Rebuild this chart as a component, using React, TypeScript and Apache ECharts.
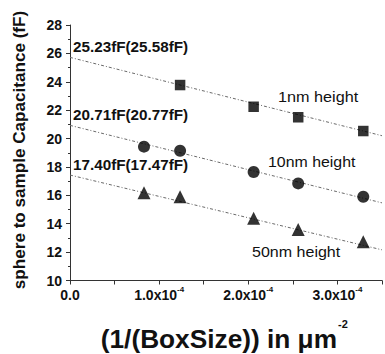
import React, { useEffect, useRef } from "react";
import * as echarts from "echarts";

const xPts4 = [1.235e-4, 2.06e-4, 2.56e-4, 3.29e-4];
const xPts5 = [0.83e-4, 1.235e-4, 2.06e-4, 2.56e-4, 3.29e-4];
const cap1nm = [23.77, 22.24, 21.5, 20.53];
const cap10nm = [19.43, 19.14, 17.64, 16.84, 15.9];
const cap50nm = [16.18, 15.9, 14.38, 13.6, 12.73];
const fitX = [0, 3.5e-4];
const fit1nm = [25.72, 20.2];
const fit10nm = [20.93, 15.47];
const fit50nm = [17.43, 12.16];
const interceptLabels = ["25.23fF(25.58fF)", "20.71fF(20.77fF)", "17.40fF(17.47fF)"];
const seriesNames = ["1nm height", "10nm height", "50nm height"];

const FF = "'Liberation Sans', Arial, sans-serif";

const pairs = (xs: number[], ys: number[]) => xs.map((x, i) => [x, ys[i]]);

export default function App() {
  const ref = useRef<HTMLDivElement>(null);
  useEffect(() => {
    if (!ref.current) return;
    const chart = echarts.init(ref.current, null, { renderer: "svg" });
    const fitStyle = { color: "#6a6a6a", width: 1, type: [3, 2, 1, 2] as any };
    const ink = "#111";
    const lbl = (text: string, x: number, y: number, font: string, sx: number) => ({
      type: "text",
      x,
      y,
      scaleX: sx,
      style: { text, fill: ink, font, textAlign: "left", textVerticalAlign: "middle" },
    });
    chart.setOption({
      animation: false,
      backgroundColor: "#fff",
      grid: { left: 70, top: 25, right: 0, bottom: 73.5, containLabel: false },
      xAxis: {
        type: "value",
        min: 0,
        max: 3.5e-4,
        interval: 0.5e-4,
        splitLine: { show: false },
        axisLine: { lineStyle: { color: "#333", width: 1 } },
        axisTick: { show: true, length: 4, inside: false, lineStyle: { color: "#333" } },
        axisLabel: {
          margin: 5,
          color: ink,
          fontFamily: FF,
          fontWeight: "bold",
          fontSize: 14,
          formatter: (v: number) => {
            const k = v * 1e4;
            if (Math.abs(k - Math.round(k)) > 0.01) return "";
            if (Math.round(k) === 0) return "{a|0.0}";
            return `{a|${Math.round(k).toFixed(1)}x10}{b|-4}`;
          },
          rich: {
            a: { fontFamily: FF, fontWeight: "bold", fontSize: 14, lineHeight: 18, color: ink },
            b: { fontFamily: FF, fontWeight: "bold", fontSize: 8, lineHeight: 8, verticalAlign: "top", color: ink },
          },
        },
      },
      yAxis: {
        type: "value",
        min: 10,
        max: 28,
        interval: 2,
        splitLine: { show: false },
        axisLine: { show: true, lineStyle: { color: "#333", width: 1 } },
        axisTick: { show: true, length: 4, lineStyle: { color: "#333" } },
        minorTick: { show: true, splitNumber: 2, length: 2, lineStyle: { color: "#333" } },
        axisLabel: { margin: 8, color: ink, fontFamily: FF, fontWeight: "bold", fontSize: 14 },
      },
      series: [
        { type: "line", data: pairs(fitX, fit1nm), symbol: "none", lineStyle: fitStyle, z: 1 },
        { type: "line", data: pairs(fitX, fit10nm), symbol: "none", lineStyle: fitStyle, z: 1 },
        { type: "line", data: pairs(fitX, fit50nm), symbol: "none", lineStyle: fitStyle, z: 1 },
        { name: seriesNames[0], type: "scatter", data: pairs(xPts4, cap1nm), symbol: "rect", symbolSize: 10.5, itemStyle: { color: "#000" }, z: 3 },
        { name: seriesNames[1], type: "scatter", data: pairs(xPts5, cap10nm), symbol: "circle", symbolSize: 12, itemStyle: { color: "#000" }, z: 3 },
        { name: seriesNames[2], type: "scatter", data: pairs(xPts5, cap50nm), symbol: "triangle", symbolSize: 13, itemStyle: { color: "#000" }, z: 3 },
      ],
      graphic: [
        lbl(interceptLabels[0], 73, 47, `bold 14px ${FF}`, 1.09),
        lbl(interceptLabels[1], 73, 115, `bold 14px ${FF}`, 1.09),
        lbl(interceptLabels[2], 73, 165, `bold 14px ${FF}`, 1.09),
        lbl(seriesNames[0], 278, 97, `15px ${FF}`, 1.08),
        lbl(seriesNames[1], 268, 162, `15px ${FF}`, 1.06),
        lbl(seriesNames[2], 252, 252, `15px ${FF}`, 1.07),
        {
          type: "text",
          x: 20,
          y: 150,
          rotation: Math.PI / 2,
          scaleX: 1.07,
          style: { text: "sphere to sample Capacitance (fF)", fill: ink, font: `bold 16px ${FF}`, textAlign: "center", textVerticalAlign: "middle" },
        },
        {
          type: "text",
          x: 337,
          y: 339,
          scaleX: 1.05,
          style: { text: "(1/(BoxSize)) in μm", fill: ink, font: `bold 25px ${FF}`, textAlign: "right", textVerticalAlign: "middle" },
        },
        { type: "text", x: 338, y: 324, style: { text: "-2", fill: ink, font: `bold 11px ${FF}`, textAlign: "left", textVerticalAlign: "middle" } },
      ],
    });
    return () => chart.dispose();
  }, []);
  return <div ref={ref} style={{ position: "fixed", left: 0, top: 0, width: 385, height: 354 }} />;
}
